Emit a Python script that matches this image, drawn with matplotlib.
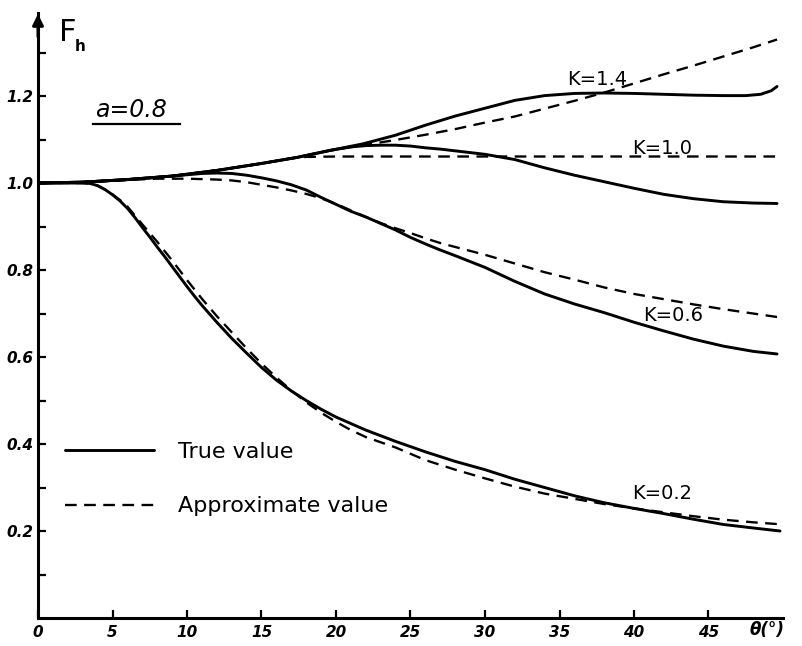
import matplotlib
matplotlib.use("Agg")
import matplotlib.pyplot as plt

# curves: theta in degrees, F_h
theta_k14_true = [0, 3, 6, 9, 12, 15, 17.4, 19.6, 21.8, 24, 26, 28, 30, 32, 34, 36, 38, 40, 42, 44, 46, 47.5, 48.5, 49.2, 49.6]
f_k14_true = [1.000, 1.002, 1.008, 1.016, 1.029, 1.045, 1.059, 1.075, 1.090, 1.110, 1.133, 1.154, 1.172, 1.190, 1.201, 1.206,
              1.207, 1.206, 1.204, 1.202, 1.201, 1.201, 1.204, 1.212, 1.222]
theta_k14_appr = [0, 3, 6, 9, 12, 15, 17.4, 19.6, 22, 24, 26, 28, 30, 32, 34, 36, 38, 40, 42, 44, 46, 48, 49.6]
f_k14_appr = [1.000, 1.002, 1.008, 1.016, 1.029, 1.045, 1.059, 1.075, 1.088, 1.099, 1.111, 1.124, 1.139, 1.153, 1.171, 1.189,
              1.208, 1.229, 1.250, 1.270, 1.291, 1.312, 1.330]

theta_k10_true = [0, 3, 6, 9, 12, 15, 17.4, 19.6, 21, 22, 23, 24, 25, 26, 27, 28, 29, 30, 31, 32, 34, 36, 38, 40, 42, 44, 46, 48, 49.6]
f_k10_true = [1.000, 1.002, 1.008, 1.016, 1.029, 1.045, 1.059, 1.075, 1.083, 1.086, 1.087, 1.087, 1.085, 1.081, 1.078, 1.074,
              1.070, 1.066, 1.060, 1.054, 1.035, 1.018, 1.003, 0.988, 0.974, 0.964, 0.957, 0.954, 0.953]
theta_k10_appr = [0, 3, 6, 9, 12, 15, 17, 18, 20, 25, 30, 35, 40, 45, 49.6]
f_k10_appr = [1.000, 1.002, 1.008, 1.016, 1.029, 1.045, 1.057, 1.060, 1.061, 1.061, 1.061, 1.061, 1.061, 1.061, 1.061]

theta_k06_true = [0, 3, 6, 9, 11, 12, 13, 14, 15, 16, 17, 18, 19, 20, 21, 22, 23, 24, 25, 26, 27, 28, 30, 32, 34, 36, 38, 40,
                  42, 44, 46, 48, 49.6]
f_k06_true = [1.000, 1.002, 1.008, 1.016, 1.022, 1.023, 1.022, 1.018, 1.012, 1.005, 0.996, 0.984, 0.967, 0.951, 0.935, 0.922,
              0.907, 0.892, 0.875, 0.860, 0.846, 0.833, 0.806, 0.774, 0.745, 0.722, 0.702, 0.680, 0.660, 0.641, 0.625, 0.613, 0.607]
theta_k06_appr = [0, 3, 6, 8, 10, 12, 13, 14, 15, 16, 17, 18, 19, 20, 21, 22, 23, 24, 25, 26, 27, 28, 30, 32, 34, 36, 38, 40,
                  42, 44, 46, 48, 49.6]
f_k06_appr = [1.000, 1.002, 1.007, 1.010, 1.010, 1.008, 1.006, 1.002, 0.996, 0.990, 0.983, 0.975, 0.965, 0.952, 0.937, 0.922,
              0.908, 0.896, 0.885, 0.873, 0.862, 0.853, 0.835, 0.815, 0.795, 0.778, 0.760, 0.745, 0.733, 0.721, 0.710, 0.700, 0.692]

theta_k02_true = [0, 3, 3.5, 4, 4.5, 5, 5.5, 6, 6.5, 7, 7.5, 8, 8.5, 9, 9.5, 10, 10.5, 11, 12, 13, 14, 15, 16, 17, 18, 19, 20,
                  21, 22, 24, 26, 28, 30, 32, 34, 36, 38, 40, 42, 44, 46, 48, 49.8]
f_k02_true = [1.000, 1.000, 0.999, 0.994, 0.985, 0.973, 0.959, 0.942, 0.921, 0.898, 0.876, 0.853, 0.831, 0.808, 0.785, 0.762,
              0.740, 0.719, 0.680, 0.643, 0.609, 0.576, 0.547, 0.522, 0.500, 0.480, 0.462, 0.447, 0.432, 0.406, 0.382, 0.360,
              0.341, 0.319, 0.300, 0.281, 0.265, 0.252, 0.240, 0.227, 0.215, 0.207, 0.200]
theta_k02_appr = [0, 3, 3.5, 4, 4.5, 5, 5.5, 6, 7, 8, 9, 10, 11, 12, 13, 14, 15, 16, 17, 18, 19, 20, 21, 22, 23, 24, 26, 28,
                  30, 32, 34, 36, 38, 40, 42, 44, 46, 48, 49.6]
f_k02_appr = [1.000, 1.000, 0.999, 0.994, 0.985, 0.974, 0.961, 0.946, 0.905, 0.865, 0.822, 0.777, 0.734, 0.694, 0.657, 0.620,
              0.585, 0.553, 0.523, 0.496, 0.472, 0.451, 0.432, 0.416, 0.404, 0.392, 0.363, 0.341, 0.321, 0.302, 0.286, 0.274,
              0.262, 0.252, 0.243, 0.234, 0.226, 0.220, 0.216]

curve_labels = ["K=1.4", "K=1.0", "K=0.6", "K=0.2"]
label_theta = [37.5, 41.9, 42.6, 41.9]
label_f = [1.237, 1.080, 0.696, 0.287]

x_ticks = [0, 5, 10, 15, 20, 25, 30, 35, 40, 45]
y_ticks = [0.1, 0.2, 0.3, 0.4, 0.5, 0.6, 0.7, 0.8, 0.9, 1.0, 1.1, 1.2, 1.3]
y_tick_labels = ["", "0.2", "", "0.4", "", "0.6", "", "0.8", "", "1.0", "", "1.2", ""]

LW = 2.1
DASH = (5, 3.2)

fig = plt.figure(figsize=(8.03, 6.46), dpi=100)
ax = fig.add_axes([38 / 803, 28 / 646, 745 / 803, 604.6 / 646])

true_curves = [(theta_k14_true, f_k14_true), (theta_k10_true, f_k10_true),
               (theta_k06_true, f_k06_true), (theta_k02_true, f_k02_true)]
appr_curves = [(theta_k14_appr, f_k14_appr), (theta_k10_appr, f_k10_appr),
               (theta_k06_appr, f_k06_appr), (theta_k02_appr, f_k02_appr)]

h_true = None
h_appr = None
for t, f in true_curves:
    h_true, = ax.plot(t, f, color="black", lw=LW, solid_capstyle="round", solid_joinstyle="round")
for t, f in appr_curves:
    h_appr, = ax.plot(t, f, color="black", lw=LW * 0.8, linestyle=(0, DASH))

for lbl, tx, fy in zip(curve_labels, label_theta, label_f):
    ax.text(tx, fy, lbl, fontsize=14, ha="center", va="center")

ax.set_xlim(0, 50)
ax.set_ylim(0, 1.39)

for side in ["top", "right"]:
    ax.spines[side].set_visible(False)
for side in ["left", "bottom"]:
    ax.spines[side].set_linewidth(2.2)

ax.set_xticks(x_ticks)
ax.set_xticklabels([str(v) for v in x_ticks], fontsize=11, fontstyle="italic", fontweight="bold")
ax.set_yticks(y_ticks)
ax.set_yticklabels(y_tick_labels, fontsize=11, fontstyle="italic", fontweight="bold")
ax.tick_params(axis="both", direction="in", length=6, width=1.6)
ax.tick_params(axis="x", pad=5)
ax.tick_params(axis="y", pad=3)

# y axis arrow head
ax.annotate("", xy=(0, 1.395), xytext=(0, 1.33),
            arrowprops=dict(arrowstyle="-|>", color="black", lw=2.2, mutation_scale=16),
            annotation_clip=False)

# axis titles
ax.text(1.4, 1.345, "F", fontsize=22, ha="left", va="center")
ax.text(2.5, 1.315, "h", fontsize=11, fontweight="bold", ha="left", va="center")
ax.text(48.9, -0.028, "θ(°)", fontsize=12, fontstyle="italic", fontweight="bold", ha="center", va="center",
        clip_on=False)

# parameter note
ax.text(3.8, 1.168, "a=0.8", fontsize=17, fontstyle="italic", ha="left", va="center")
ax.plot([3.7, 9.5], [1.135, 1.135], color="black", lw=1.6)

ax.legend([h_true, h_appr], ["True value", "Approximate value"], loc="upper left",
          bbox_to_anchor=(1.8, 0.405), bbox_transform=ax.transData, frameon=False,
          fontsize=16, handlelength=4.0, handletextpad=1.1, labelspacing=1.55,
          borderpad=0, borderaxespad=0)

fig.savefig("out.png", dpi=100)
